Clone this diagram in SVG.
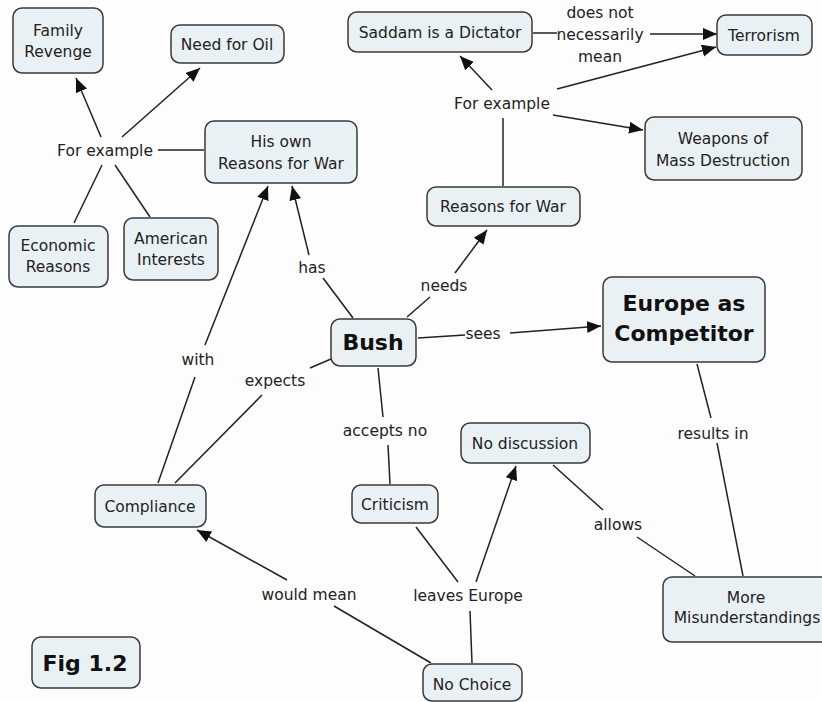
<svg xmlns="http://www.w3.org/2000/svg" width="822" height="702" viewBox="0 0 822 702">
  <defs>
    <marker id="arrow" markerUnits="userSpaceOnUse" markerWidth="15" markerHeight="13" refX="14" refY="6" orient="auto">
      <path d="M0,0 L14,6 L0,12 z" fill="#111"/>
    </marker>
  </defs>
  <style>
    .node rect { fill: #eaf1f5; stroke: #3a3a3a; stroke-width: 1.5; }
    .node text, .label { font-family: "DejaVu Sans", Verdana, sans-serif; font-size: 15.5px; fill: #222; text-anchor: middle; }
    .node text.big { font-size: 22px; font-weight: bold; fill: #111; }
    .links line { stroke: #222; stroke-width: 1.5; fill: none; }
    .links line.arr { marker-end: url(#arrow); }
  </style>
  <rect width="822" height="702" fill="#fdfdfd"/>

  <!-- connectors and their phrases -->
  <g id="links" class="links">
    <!-- left "For example" cluster -->
    <line x1="158" y1="150" x2="204" y2="150"/>
    <line class="arr" x1="101" y1="137" x2="76" y2="78"/>
    <line class="arr" x1="122" y1="137" x2="200" y2="68"/>
    <line x1="102" y1="165" x2="74" y2="223"/>
    <line x1="115" y1="165" x2="150" y2="217"/>
    <!-- has -->
    <line x1="353" y1="318" x2="323" y2="278"/>
    <line class="arr" x1="309" y1="255" x2="292" y2="186"/>
    <!-- with -->
    <line x1="158" y1="483" x2="195" y2="377"/>
    <line class="arr" x1="205" y1="345" x2="268" y2="186"/>
    <!-- expects -->
    <line x1="175" y1="483" x2="262" y2="395"/>
    <line x1="310" y1="368" x2="331" y2="359"/>
    <!-- needs -->
    <line x1="407" y1="317" x2="430" y2="297"/>
    <line class="arr" x1="455" y1="273" x2="487" y2="230"/>
    <!-- sees -->
    <line x1="418" y1="338" x2="465" y2="335"/>
    <line class="arr" x1="510" y1="333" x2="601" y2="326"/>
    <!-- accepts no -->
    <line x1="378" y1="368" x2="383" y2="417"/>
    <line x1="388" y1="445" x2="390" y2="484"/>
    <!-- results in -->
    <line x1="697" y1="364" x2="711" y2="418"/>
    <line x1="717" y1="443" x2="743" y2="576"/>
    <!-- allows -->
    <line x1="553" y1="465" x2="603" y2="510"/>
    <line x1="637" y1="537" x2="695" y2="576"/>
    <!-- would mean -->
    <line class="arr" x1="287" y1="580" x2="197" y2="530"/>
    <line x1="334" y1="606" x2="431" y2="663"/>
    <!-- leaves Europe -->
    <line x1="416" y1="527" x2="458" y2="582"/>
    <line x1="472" y1="663" x2="470" y2="611"/>
    <line class="arr" x1="476" y1="582" x2="516" y2="466"/>
    <!-- right "For example" cluster -->
    <line x1="503" y1="186" x2="503" y2="118"/>
    <line class="arr" x1="492" y1="90" x2="460" y2="56"/>
    <line class="arr" x1="557" y1="89" x2="716" y2="47"/>
    <line class="arr" x1="553" y1="115" x2="643" y2="130"/>
    <!-- does not necessarily mean -->
    <line x1="533" y1="33" x2="557" y2="33"/>
    <line class="arr" x1="650" y1="34" x2="717" y2="34"/>

    <text class="label" x="105" y="155.5">For example</text>
    <text class="label" x="502" y="108.5">For example</text>
    <text class="label" x="600" y="17.5">does not</text>
    <text class="label" x="600" y="39.5">necessarily</text>
    <text class="label" x="600" y="61.5">mean</text>
    <text class="label" x="312" y="273">has</text>
    <text class="label" x="444" y="291">needs</text>
    <text class="label" x="483" y="339">sees</text>
    <text class="label" x="275" y="385.5">expects</text>
    <text class="label" x="198" y="365">with</text>
    <text class="label" x="385" y="435.5">accepts no</text>
    <text class="label" x="713" y="438.5">results in</text>
    <text class="label" x="618" y="529.5">allows</text>
    <text class="label" x="309" y="599.5">would mean</text>
    <text class="label" x="468" y="600.5">leaves Europe</text>
  </g>

  <!-- concepts -->
  <g id="family-revenge" class="node">
    <rect x="13" y="8" width="90" height="65" rx="9"/>
    <text x="58" y="35.5">Family</text>
    <text x="58" y="56.5">Revenge</text>
  </g>
  <g id="need-for-oil" class="node">
    <rect x="171" y="25" width="113" height="38" rx="9"/>
    <text x="227" y="49.5">Need for Oil</text>
  </g>
  <g id="own-reasons" class="node">
    <rect x="205" y="121" width="152" height="62" rx="9"/>
    <text x="281" y="147">His own</text>
    <text x="281" y="168.5">Reasons for War</text>
  </g>
  <g id="economic-reasons" class="node">
    <rect x="9" y="226" width="99" height="61" rx="9"/>
    <text x="58" y="251">Economic</text>
    <text x="58" y="272">Reasons</text>
  </g>
  <g id="american-interests" class="node">
    <rect x="124" y="218" width="94" height="62" rx="9"/>
    <text x="171" y="243.5">American</text>
    <text x="171" y="264.5">Interests</text>
  </g>
  <g id="saddam" class="node">
    <rect x="348" y="12" width="184" height="40" rx="9"/>
    <text x="440" y="37.5">Saddam is a Dictator</text>
  </g>
  <g id="terrorism" class="node">
    <rect x="717" y="15" width="95" height="40" rx="9"/>
    <text x="764" y="40.5">Terrorism</text>
  </g>
  <g id="wmd" class="node">
    <rect x="645" y="117" width="157" height="63" rx="9"/>
    <text x="723" y="144">Weapons of</text>
    <text x="723" y="165.5">Mass Destruction</text>
  </g>
  <g id="reasons-for-war" class="node">
    <rect x="427" y="187" width="153" height="39" rx="9"/>
    <text x="503" y="212">Reasons for War</text>
  </g>
  <g id="bush" class="node">
    <rect x="331" y="319" width="85" height="47" rx="9"/>
    <text class="big" x="373" y="350">Bush</text>
  </g>
  <g id="europe-competitor" class="node">
    <rect x="603" y="277" width="162" height="85" rx="9"/>
    <text class="big" x="684" y="311">Europe as</text>
    <text class="big" x="684" y="341">Competitor</text>
  </g>
  <g id="compliance" class="node">
    <rect x="95" y="485" width="111" height="42" rx="9"/>
    <text x="150" y="511.5">Compliance</text>
  </g>
  <g id="criticism" class="node">
    <rect x="352" y="485" width="86" height="38" rx="9"/>
    <text x="395" y="509.5">Criticism</text>
  </g>
  <g id="no-discussion" class="node">
    <rect x="461" y="423" width="129" height="40" rx="9"/>
    <text x="525" y="448.5">No discussion</text>
  </g>
  <g id="misunderstandings" class="node">
    <rect x="663" y="577" width="170" height="65" rx="9"/>
    <text x="746" y="602.5">More</text>
    <text x="747" y="623">Misunderstandings</text>
  </g>
  <g id="no-choice" class="node">
    <rect x="423" y="664" width="99" height="37" rx="9"/>
    <text x="472" y="689.5">No Choice</text>
  </g>
  <g id="fig-label" class="node">
    <rect x="32" y="637" width="108" height="51" rx="9"/>
    <text class="big" x="85" y="671">Fig 1.2</text>
  </g>
</svg>
